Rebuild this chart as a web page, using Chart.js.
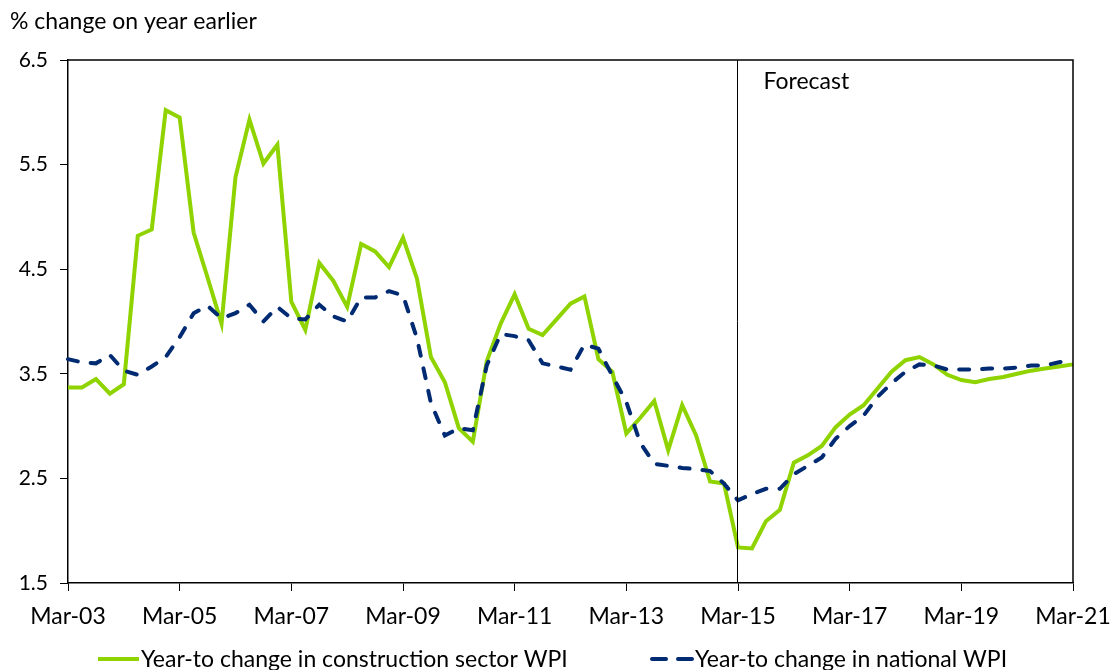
<!DOCTYPE html>
<html>
<head>
<meta charset="utf-8">
<script src="https://cdn.jsdelivr.net/npm/chart.js@4"></script>
<style>
  html, body { margin: 0; padding: 0; background: #fff; }
  #wpiChart { display: block; }
</style>
</head>
<body>
<canvas id="wpiChart" width="1118" height="670"></canvas>
<script>
/* ===== DATA ===== */

const quarterMonths = ['Mar', 'Jun', 'Sep', 'Dec'];
const firstYear = 2003;
const lastYear = 2021;

// Year-to change in construction sector WPI, quarterly, Mar-03 .. Mar-21
const constructionWpi = [
    3.37, 3.37, 3.45, 3.31,
    3.40, 4.82, 4.88, 6.02,
    5.95, 4.85, 4.42, 3.98,
    5.38, 5.93, 5.51, 5.69,
    4.19, 3.92, 4.56, 4.39,
    4.14, 4.74, 4.67, 4.52,
    4.80, 4.41, 3.66, 3.42,
    2.98, 2.85, 3.62, 3.98,
    4.26, 3.93, 3.87, 4.02,
    4.17, 4.24, 3.64, 3.52,
    2.93, 3.08, 3.24, 2.77,
    3.20, 2.91, 2.47, 2.45,
    1.84, 1.83, 2.09, 2.20,
    2.65, 2.72, 2.81, 2.99,
    3.11, 3.20, 3.36, 3.52,
    3.63, 3.66, 3.59, 3.49,
    3.44, 3.42, 3.45, 3.47,
    3.50, 3.53, 3.55, 3.57,
    3.59
];

// Year-to change in national WPI
const nationalWpi = [
    3.64, 3.61, 3.60, 3.68,
    3.53, 3.49, 3.57, 3.66,
    3.85, 4.08, 4.15, 4.03,
    4.08, 4.16, 4.00, 4.14,
    4.03, 4.02, 4.16, 4.05,
    4.00, 4.23, 4.23, 4.29,
    4.25, 3.84, 3.22, 2.91,
    2.98, 2.96, 3.58, 3.88,
    3.86, 3.82, 3.60, 3.57,
    3.54, 3.78, 3.74, 3.48,
    3.23, 2.84, 2.64, 2.62,
    2.60, 2.59, 2.57, 2.45,
    2.29, 2.35, 2.40, 2.40,
    2.54, 2.62, 2.70, 2.88,
    3.00, 3.10, 3.28, 3.41,
    3.52, 3.59, 3.58, 3.54,
    3.54, 3.54, 3.55, 3.55,
    3.56, 3.58, 3.58, 3.61,
    3.64
];

const yTicks = [1.5, 2.5, 3.5, 4.5, 5.5, 6.5];
const forecastStart = 'Mar-15';

// Build quarter labels: Mar-03, Jun-03, ... Mar-21
const quarterLabels = [];
for (let year = firstYear; year <= lastYear; year++) {
    const yy = String(year % 100).padStart(2, '0');
    for (const m of quarterMonths) {
        quarterLabels.push(m + '-' + yy);
        if (year === lastYear) break;
    }
}

/* ===== CHART ===== */

const FONT = 'Lato, "Open Sans", sans-serif';
const GREEN = '#8FD400';
const NAVY = '#002B73';

// Box around the plot, forecast divider, axis unit and the legend
const decorPlugin = {
    id: 'decor',
    afterDatasetsDraw(chart) {
        const { ctx, chartArea: a, scales } = chart;
        ctx.save();

        // top and right edges of the plot box
        ctx.strokeStyle = '#000';
        ctx.lineWidth = 1.5;
        ctx.beginPath();
        ctx.moveTo(a.left, a.top);
        ctx.lineTo(a.right, a.top);
        ctx.lineTo(a.right, a.bottom);
        ctx.stroke();

        // forecast divider
        const fx = Math.round(scales.x.getPixelForValue(quarterLabels.indexOf(forecastStart))) - 0.5;
        ctx.lineWidth = 1;
        ctx.beginPath();
        ctx.moveTo(fx, a.top);
        ctx.lineTo(fx, a.bottom);
        ctx.stroke();

        ctx.fillStyle = '#000';
        ctx.font = '23px ' + FONT;
        ctx.textBaseline = 'middle';
        ctx.textAlign = 'left';
        ctx.fillText('Forecast', fx + 26, a.top + 22);

        // y axis unit
        ctx.fillText('% change on year earlier', 10, 22);

        // legend, drawn from the dataset options
        const ly = 659;
        const items = [
            { x: 96, ds: chart.data.datasets[0] },
            { x: 650, ds: chart.data.datasets[1] }
        ];
        items.forEach(item => {
            ctx.strokeStyle = item.ds.borderColor;
            ctx.lineWidth = item.ds.borderWidth;
            ctx.lineCap = item.ds.borderDash ? 'round' : 'butt';
            ctx.setLineDash(item.ds.borderDash ? [14, 12] : []);
            ctx.beginPath();
            ctx.moveTo(item.x + 2, ly);
            ctx.lineTo(item.x + 43, ly);
            ctx.stroke();
            ctx.setLineDash([]);
            ctx.fillStyle = '#000';
            ctx.fillText(item.ds.label, item.x + 45, ly + 1);
        });
        ctx.restore();
    }
};

const ctx = document.getElementById('wpiChart').getContext('2d');
new Chart(ctx, {
    type: 'line',
    data: {
        labels: quarterLabels,
        datasets: [
            {
                label: 'Year-to change in construction sector WPI',
                data: constructionWpi,
                borderColor: GREEN,
                backgroundColor: GREEN,
                borderWidth: 4,
                pointRadius: 0,
                tension: 0,
                order: 2
            },
            {
                label: 'Year-to change in national WPI',
                data: nationalWpi,
                borderColor: NAVY,
                backgroundColor: NAVY,
                borderWidth: 4,
                borderDash: [10, 13],
                borderCapStyle: 'round',
                pointRadius: 0,
                tension: 0,
                order: 1
            }
        ]
    },
    options: {
        responsive: false,
        animation: false,
        layout: { padding: { top: 60, right: 45, left: 0, bottom: 37 } },
        scales: {
            x: {
                offset: false,
                afterFit(scale) {
                    scale.height = 50;
                    // let the last label hang into the margin instead of shrinking the plot
                    scale.paddingRight = 0;
                    scale.paddingLeft = 0;
                },
                grid: {
                    display: true,
                    drawOnChartArea: false,
                    drawTicks: true,
                    tickLength: 8,
                    color: '#000'
                },
                border: { color: '#000', width: 1.5 },
                ticks: {
                    autoSkip: false,
                    maxRotation: 0,
                    color: '#000',
                    padding: 12,
                    font: { family: FONT, size: 23 },
                    callback: function(value, index) {
                        return index % 8 === 0 ? quarterLabels[index] : null;
                    }
                }
            },
            y: {
                min: 1.5,
                max: 6.5,
                afterFit(scale) { scale.width = 68; },
                afterBuildTicks(scale) {
                    scale.ticks = yTicks.map(v => ({ value: v }));
                },
                grid: {
                    display: true,
                    drawOnChartArea: false,
                    drawTicks: true,
                    tickLength: 8,
                    color: '#000'
                },
                border: { color: '#000', width: 1.5 },
                ticks: {
                    color: '#000',
                    padding: 12,
                    font: { family: FONT, size: 21 },
                    callback: v => v.toFixed(1)
                }
            }
        },
        plugins: {
            legend: { display: false },
            tooltip: { enabled: false }
        }
    },
    plugins: [decorPlugin]
});
</script>
</body>
</html>
